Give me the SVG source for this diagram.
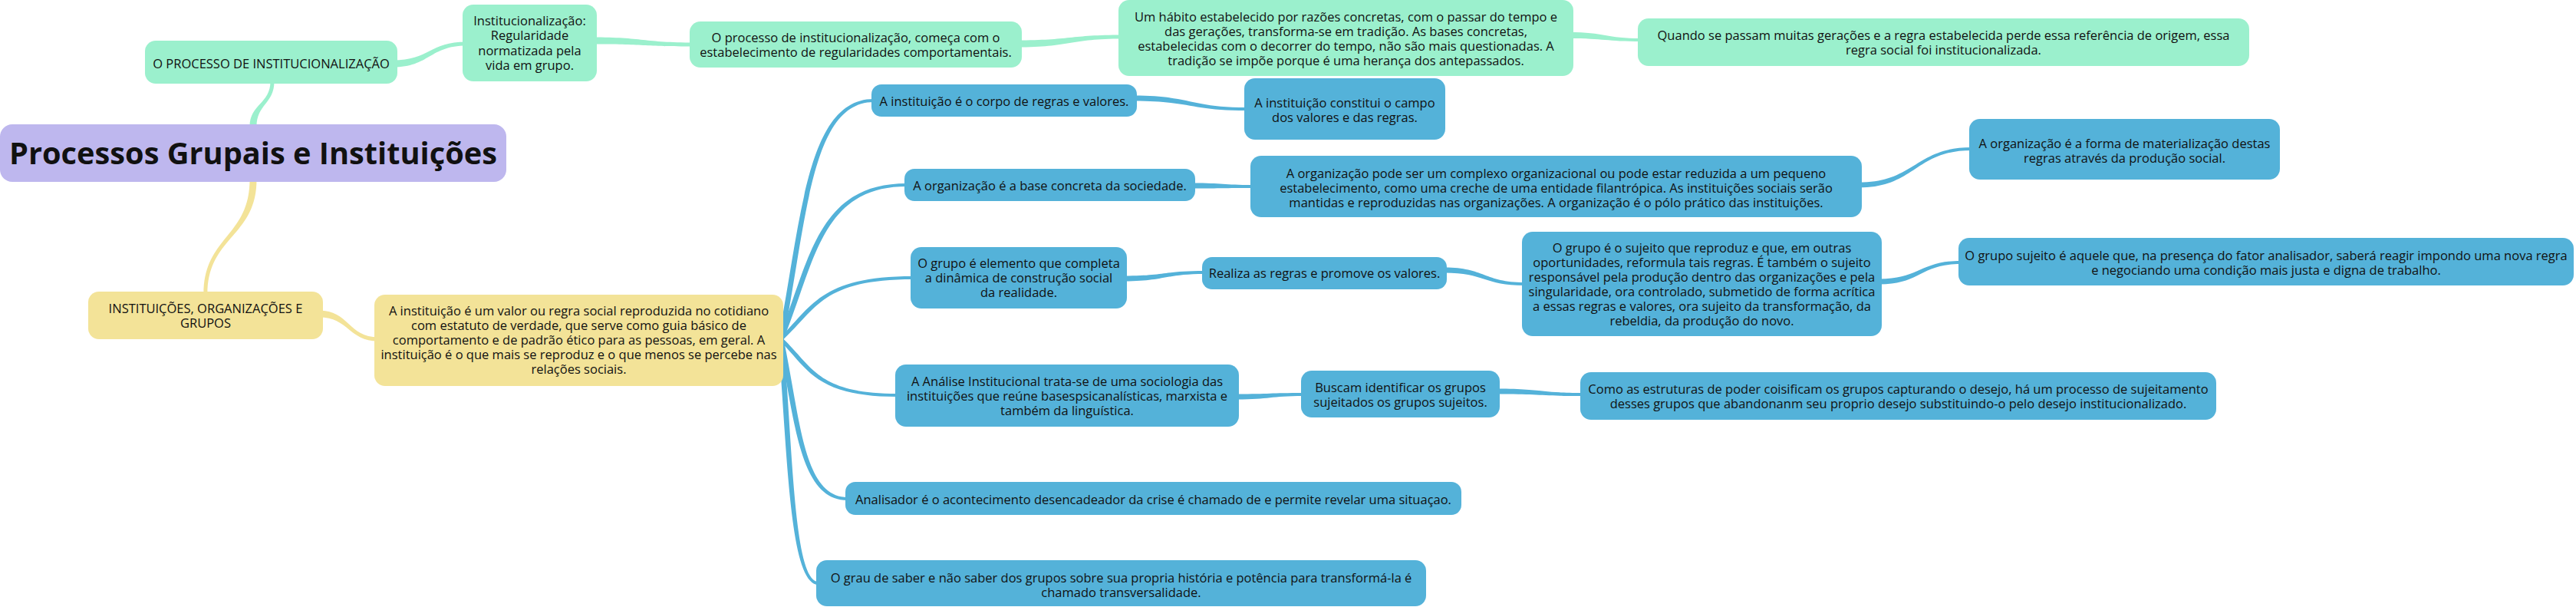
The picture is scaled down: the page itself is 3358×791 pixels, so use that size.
<svg xmlns="http://www.w3.org/2000/svg" width="3358" height="791" viewBox="0 0 3358 791">
<style>
.t{font-family:"Open Sans","Noto Sans","DejaVu Sans",sans-serif;font-size:16.5px;fill:#111;text-anchor:middle}
.root{font-family:"Open Sans","Noto Sans","DejaVu Sans",sans-serif;font-size:39px;font-weight:bold;fill:#111;text-anchor:middle}
.g{fill:#9BF0CD}
.b{fill:#54B2D9}
.y{fill:#F3E398}
.p{fill:#BEB7EE}
</style>
<rect width="3358" height="791" fill="#fff"/>
<g id="connectors">
<path class="g" d="M 325.5,165 C 325.5,135.5 352.5,135.5 352.5,106 L 357.5,106 C 357.5,135.5 334.5,135.5 334.5,165 Z"/>
<path class="y" d="M 325.5,234 C 325.5,308.5 265.5,308.5 265.5,383 L 270.5,383 C 270.5,308.5 334.5,308.5 334.5,234 Z"/>
<path class="g" d="M 512,78.5 C 560,78.5 560,54.5 608,54.5 L 608,59.5 C 560,59.5 560,87.5 512,87.5 Z"/>
<path class="g" d="M 772,48.5 C 838.5,48.5 838.5,55.5 905,55.5 L 905,60.5 C 838.5,60.5 838.5,57.5 772,57.5 Z"/>
<path class="g" d="M 1326,52.5 C 1394.5,52.5 1394.5,45.5 1463,45.5 L 1463,50.5 C 1394.5,50.5 1394.5,61.5 1326,61.5 Z"/>
<path class="g" d="M 2045,42 C 2092.5,42 2092.5,50 2140,50 L 2140,54 C 2092.5,54 2092.5,50 2045,50 Z"/>
<path class="y" d="M 416,404.5 C 454.5,404.5 454.5,439.5 493,439.5 L 493,444.5 C 454.5,444.5 454.5,413.5 416,413.5 Z"/>
<path class="b" d="M 1014.5,442 C 1044.75,286.5 1051.3,129 1139,129 L 1139,133 C 1057.3,133 1051.75,286.5 1021.5,442 Z"/>
<path class="b" d="M 1014.5,442 C 1055.5,341.5 1064.2,239 1182,239 L 1182,243 C 1070.2,243 1062.5,341.5 1021.5,442 Z"/>
<path class="b" d="M 1014.5,442 C 1057.5,402 1066.6,360 1190,360 L 1190,364 C 1072.6,364 1064.5,402 1021.5,442 Z"/>
<path class="b" d="M 1014.5,442 C 1052.5,478.5 1060.6,517 1170,517 L 1170,513 C 1066.6,513 1059.5,478.5 1021.5,442 Z"/>
<path class="b" d="M 1014.5,442 C 1036.25,546 1041.1,652 1105,652 L 1105,648 C 1047.1,648 1043.25,546 1021.5,442 Z"/>
<path class="b" d="M 1014.5,442 C 1026.75,601 1029.7,762 1067,762 L 1067,758 C 1035.7,758 1033.75,601 1021.5,442 Z"/>
<path class="b" d="M 1478,124.5 C 1551.5,124.5 1551.5,140 1625,140 L 1625,144 C 1551.5,144 1551.5,131.5 1478,131.5 Z"/>
<path class="b" d="M 1555,238.5 C 1594,238.5 1594,241 1633,241 L 1633,245 C 1594,245 1594,245.5 1555,245.5 Z"/>
<path class="b" d="M 2423,237.5 C 2496.5,237.5 2496.5,192 2570,192 L 2570,196 C 2496.5,196 2496.5,244.5 2423,244.5 Z"/>
<path class="b" d="M 1466,359.5 C 1518,359.5 1518,353 1570,353 L 1570,357 C 1518,357 1518,366.5 1466,366.5 Z"/>
<path class="b" d="M 1883,348.5 C 1935,348.5 1935,368 1987,368 L 1987,372 C 1935,372 1935,355.5 1883,355.5 Z"/>
<path class="b" d="M 2450,363.5 C 2503,363.5 2503,340 2556,340 L 2556,344 C 2503,344 2503,370.5 2450,370.5 Z"/>
<path class="b" d="M 1612,513.5 C 1655.5,513.5 1655.5,512 1699,512 L 1699,516 C 1655.5,516 1655.5,520.5 1612,520.5 Z"/>
<path class="b" d="M 1952,506.5 C 2007.5,506.5 2007.5,512 2063,512 L 2063,516 C 2007.5,516 2007.5,513.5 1952,513.5 Z"/>
</g>
<g id="root"><rect class="p" x="0" y="162" width="660" height="75" rx="16"/><text class="root" x="330" y="214" textLength="636" lengthAdjust="spacingAndGlyphs">Processos Grupais e Instituições</text></g>
<g id="n_proc"><rect class="g" x="189" y="53" width="329" height="56" rx="14"/><text class="t" x="353.5" y="88.5">O PROCESSO DE INSTITUCIONALIZAÇÃO</text></g>
<g id="n_instit"><rect class="g" x="603" y="6" width="175" height="100" rx="14"/><text class="t"><tspan x="690.5" y="32.5">Institucionalização:</tspan><tspan x="690.5" y="52">Regularidade</tspan><tspan x="690.5" y="71.5">normatizada pela</tspan><tspan x="690.5" y="91">vida em grupo.</tspan></text></g>
<g id="n_comeca"><rect class="g" x="899" y="28" width="433" height="60" rx="14"/><text class="t"><tspan x="1115.5" y="54.5">O processo de institucionalização, começa com o</tspan><tspan x="1115.5" y="73.5">estabelecimento de regularidades comportamentais.</tspan></text></g>
<g id="n_habito"><rect class="g" x="1458" y="0" width="593" height="99" rx="14"/><text class="t"><tspan x="1754.5" y="27.5">Um hábito estabelecido por razões concretas, com o passar do tempo e</tspan><tspan x="1754.5" y="46.5">das gerações, transforma-se em tradição. As bases concretas,</tspan><tspan x="1754.5" y="65.5">estabelecidas com o decorrer do tempo, não são mais questionadas. A</tspan><tspan x="1754.5" y="84.5">tradição se impõe porque é uma herança dos antepassados.</tspan></text></g>
<g id="n_quando"><rect class="g" x="2135" y="24" width="797" height="62" rx="14"/><text class="t"><tspan x="2533.5" y="51.5">Quando se passam muitas gerações e a regra estabelecida perde essa referência de origem, essa</tspan><tspan x="2533.5" y="70.5">regra social foi institucionalizada.</tspan></text></g>
<g id="n_corpo"><rect class="b" x="1136" y="110" width="346" height="42" rx="13"/><text class="t" x="1309" y="137.5">A instituição é o corpo de regras e valores.</text></g>
<g id="n_campo"><rect class="b" x="1622" y="102" width="262" height="80" rx="14"/><text class="t"><tspan x="1753" y="139.5">A instituição constitui o campo</tspan><tspan x="1753" y="158.5">dos valores e das regras.</tspan></text></g>
<g id="n_base"><rect class="b" x="1179" y="220" width="379" height="42" rx="13"/><text class="t" x="1368.5" y="247.5">A organização é a base concreta da sociedade.</text></g>
<g id="n_complexo"><rect class="b" x="1630" y="203" width="797" height="80" rx="14"/><text class="t"><tspan x="2028.5" y="231.5">A organização pode ser um complexo organizacional ou pode estar reduzida a um pequeno</tspan><tspan x="2028.5" y="250.5">estabelecimento, como uma creche de uma entidade filantrópica. As instituições sociais serão</tspan><tspan x="2028.5" y="269.5">mantidas e reproduzidas nas organizações. A organização é o pólo prático das instituições.</tspan></text></g>
<g id="n_forma"><rect class="b" x="2567" y="155" width="405" height="79" rx="14"/><text class="t"><tspan x="2769.5" y="192.5">A organização é a forma de materialização destas</tspan><tspan x="2769.5" y="211.5">regras através da produção social.</tspan></text></g>
<g id="n_grupo"><rect class="b" x="1187" y="322" width="282" height="80" rx="14"/><text class="t"><tspan x="1328" y="348.5">O grupo é elemento que completa</tspan><tspan x="1328" y="367.5">a dinâmica de construção social</tspan><tspan x="1328" y="386.5">da realidade.</tspan></text></g>
<g id="n_realiza"><rect class="b" x="1567" y="335" width="319" height="42" rx="13"/><text class="t" x="1726.5" y="361.5">Realiza as regras e promove os valores.</text></g>
<g id="n_sujeito"><rect class="b" x="1984" y="302" width="469" height="136" rx="14"/><text class="t"><tspan x="2218.5" y="328.5">O grupo é o sujeito que reproduz e que, em outras</tspan><tspan x="2218.5" y="347.5">oportunidades, reformula tais regras. É também o sujeito</tspan><tspan x="2218.5" y="366.5">responsável pela produção dentro das organizações e pela</tspan><tspan x="2218.5" y="385.5">singularidade, ora controlado, submetido de forma acrítica</tspan><tspan x="2218.5" y="404.5">a essas regras e valores, ora sujeito da transformação, da</tspan><tspan x="2218.5" y="423.5">rebeldia, da produção do novo.</tspan></text></g>
<g id="n_fator"><rect class="b" x="2553" y="310" width="802" height="62" rx="14"/><text class="t"><tspan x="2954" y="338.5">O grupo sujeito é aquele que, na presença do fator analisador, saberá reagir impondo uma nova regra</tspan><tspan x="2954" y="357.5">e negociando uma condição mais justa e digna de trabalho.</tspan></text></g>
<g id="n_inst"><rect class="y" x="115" y="380" width="306" height="62" rx="14"/><text class="t"><tspan x="268" y="407.5">INSTITUIÇÕES, ORGANIZAÇÕES E</tspan><tspan x="268" y="426.5">GRUPOS</tspan></text></g>
<g id="n_valor"><rect class="y" x="488" y="384" width="533" height="119" rx="14"/><text class="t"><tspan x="754.5" y="410.5">A instituição é um valor ou regra social reproduzida no cotidiano</tspan><tspan x="754.5" y="429.5">com estatuto de verdade, que serve como guia básico de</tspan><tspan x="754.5" y="448.5">comportamento e de padrão ético para as pessoas, em geral. A</tspan><tspan x="754.5" y="467.5">instituição é o que mais se reproduz e o que menos se percebe nas</tspan><tspan x="754.5" y="486.5">relações sociais.</tspan></text></g>
<g id="n_analise"><rect class="b" x="1167" y="475" width="448" height="81" rx="14"/><text class="t"><tspan x="1391" y="502.5">A Análise Institucional trata-se de uma sociologia das</tspan><tspan x="1391" y="521.5">instituições que reúne basespsicanalísticas, marxista e</tspan><tspan x="1391" y="540.5">também da linguística.</tspan></text></g>
<g id="n_buscam"><rect class="b" x="1696" y="483" width="259" height="61" rx="14"/><text class="t"><tspan x="1825.5" y="510.5">Buscam identificar os grupos</tspan><tspan x="1825.5" y="529.5">sujeitados os grupos sujeitos.</tspan></text></g>
<g id="n_como"><rect class="b" x="2060" y="485" width="829" height="62" rx="14"/><text class="t"><tspan x="2474.5" y="512.5">Como as estruturas de poder coisificam os grupos capturando o desejo, há um processo de sujeitamento</tspan><tspan x="2474.5" y="531.5">desses grupos que abandonanm seu proprio desejo substituindo-o pelo desejo institucionalizado.</tspan></text></g>
<g id="n_analisador"><rect class="b" x="1102" y="628" width="803" height="43" rx="13"/><text class="t" x="1503.5" y="656.5">Analisador é o acontecimento desencadeador da crise é chamado de e permite revelar uma situaçao.</text></g>
<g id="n_grau"><rect class="b" x="1064" y="730" width="795" height="60" rx="14"/><text class="t"><tspan x="1461.5" y="758.5">O grau de saber e não saber dos grupos sobre sua propria história e potência para transformá-la é</tspan><tspan x="1461.5" y="777.5">chamado transversalidade.</tspan></text></g>
</svg>
